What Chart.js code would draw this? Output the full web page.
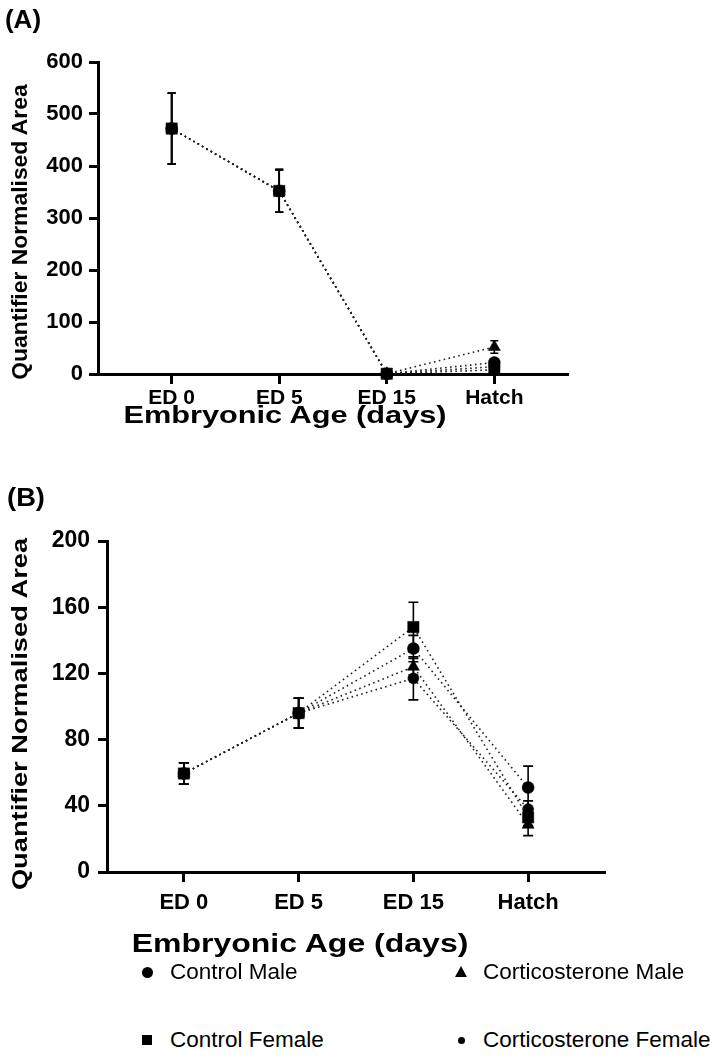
<!DOCTYPE html>
<html><head><meta charset="utf-8">
<script src="https://cdn.jsdelivr.net/npm/chart.js@4.4.0/dist/chart.umd.min.js"></script>
<style>
html,body{margin:0;padding:0;background:#fff;}
body{width:717px;height:1060px;position:relative;overflow:hidden;font-family:'Liberation Sans',Arial,sans-serif;color:#000;}
canvas{position:absolute;left:0;}
.t{position:absolute;white-space:nowrap;line-height:1;}
.b{font-weight:bold;}
.mk{position:absolute;background:#000;}
</style></head>
<body>
<canvas id="cA" width="717" height="450" style="top:0px"></canvas>
<canvas id="cB" width="717" height="500" style="top:470px"></canvas>

<div class="t b" style="left:23px;top:19px;font-size:26px;transform:translate(-50%,-50%);">(A)</div>
<div class="t b" style="left:26px;top:497px;font-size:26px;transform:translate(-50%,-50%) scale(1.05,1);">(B)</div>

<div class="t b" style="left:20px;top:232px;font-size:22px;transform:translate(-50%,-50%) rotate(-90deg) scale(1.04,1);">Quantifier Normalised Area</div>
<div class="t b" style="left:20px;top:714px;font-size:22px;transform:translate(-50%,-50%) rotate(-90deg) scale(1.24,1);">Quantifier Normalised Area</div>

<div class="t b" style="left:285px;top:415px;font-size:24px;transform:translate(-50%,-50%) scale(1.28,1);">Embryonic Age (days)</div>
<div class="t b" style="left:300px;top:943px;font-size:25px;transform:translate(-50%,-50%) scale(1.28,1);">Embryonic Age (days)</div>

<div class="mk" style="left:142px;top:967px;width:11px;height:11px;border-radius:50%;"></div>
<div class="t" style="left:170px;top:972px;font-size:22.5px;transform:translateY(-50%);">Control Male</div>
<div class="mk" style="left:142px;top:1035px;width:10px;height:10px;"></div>
<div class="t" style="left:170px;top:1040px;font-size:22.5px;transform:translateY(-50%);">Control Female</div>
<div class="mk" style="left:455px;top:966px;width:12px;height:11px;clip-path:polygon(50% 0,100% 100%,0 100%);"></div>
<div class="t" style="left:483px;top:972px;font-size:22.5px;transform:translateY(-50%);">Corticosterone Male</div>
<div class="mk" style="left:458px;top:1037px;width:7px;height:7px;border-radius:50%;"></div>
<div class="t" style="left:483px;top:1040px;font-size:22.5px;transform:translateY(-50%);">Corticosterone Female</div>

<script>
const categories = ['ED 0', 'ED 5', 'ED 15', 'Hatch'];
const seriesNames = ['Control Male', 'Control Female', 'Corticosterone Male', 'Corticosterone Female'];

// Panel A means
const aControlMale = [472, 352, 0.5, 22];
const aControlFemale = [472, 352, 0.5, 8];
const aCortMale = [472, 352, 0.5, 52];
const aCortFemale = [472, 352, 0.5, 14];
// Panel A error (±)
const aControlMaleErr = [68, 41, 0, 4];
const aControlFemaleErr = [68, 41, 0, 3];
const aCortMaleErr = [68, 41, 0, 12];
const aCortFemaleErr = [68, 41, 0, 4];
const aYTicks = [0, 100, 200, 300, 400, 500, 600];

// Panel B means
const bControlMale = [59.5, 96, 135, 51];
const bControlFemale = [59.5, 96, 148, 33];
const bCortMale = [59.5, 96, 124, 28.5];
const bCortFemale = [59.5, 96, 117, 38];
// Panel B error (±)
const bControlMaleErr = [6.5, 9, 8, 13];
const bControlFemaleErr = [6.5, 9, 15, 5];
const bCortMaleErr = [6.5, 9, 5, 6.5];
const bCortFemaleErr = [6.5, 9, 13, 5];
const bYTicks = [0, 40, 80, 120, 160, 200];

const pointStyles = ['circle', 'rect', 'triangle', 'circle'];
const pointRadii = [6, 8, 7, 5.5];
const drawOrder = [2, 0, 1, 3];

const errorBars = {
  id: 'errorBars',
  beforeDatasetsDraw(chart, args, opts) {
    const ctx = chart.ctx, xs = chart.scales.x, ys = chart.scales.y;
    ctx.save();
    ctx.strokeStyle = '#000';
    ctx.lineWidth = opts.width || 1.6;
    const cap = opts.cap || 4;
    chart.data.datasets.forEach(ds => {
      ds.data.forEach((p, i) => {
        const e = ds.errors[i];
        if (!e) return;
        const x = xs.getPixelForValue(p.x);
        const yt = ys.getPixelForValue(p.y + e);
        const yb = ys.getPixelForValue(p.y - e);
        ctx.beginPath();
        ctx.moveTo(x, yt); ctx.lineTo(x, yb);
        ctx.moveTo(x - cap, yt); ctx.lineTo(x + cap, yt);
        ctx.moveTo(x - cap, yb); ctx.lineTo(x + cap, yb);
        ctx.stroke();
      });
    });
    ctx.restore();
  }
};

function makeDatasets(series, errs) {
  return series.map((vals, k) => ({
    label: seriesNames[k],
    data: vals.map((v, i) => ({ x: i, y: v })),
    errors: errs[k],
    order: drawOrder[k],
    showLine: true,
    borderColor: '#222',
    borderWidth: 1.6,
    borderDash: [1.6, 3.4],
    pointStyle: pointStyles[k],
    pointRadius: pointRadii[k],
    pointBackgroundColor: '#000',
    pointBorderColor: '#000',
    pointBorderWidth: 0.5,
    clip: false,
    tension: 0
  }));
}

function makeChart(id, series, errs, yMax, yTicks, yWidth, pad, xMax, cap, yFont, xFont, yPad, xPad) {
  return new Chart(document.getElementById(id), {
    type: 'line',
    data: { datasets: makeDatasets(series, errs) },
    plugins: [errorBars],
    options: {
      responsive: false,
      devicePixelRatio: 1,
      animation: false,
      layout: { padding: pad },
      plugins: { legend: { display: false }, tooltip: { enabled: false }, errorBars: { cap: cap, width: 1.6 } },
      scales: {
        x: {
          type: 'linear', min: -xMax + 3, max: xMax,
          afterBuildTicks: s => { s.ticks = categories.map((c, i) => ({ value: i })); },
          afterFit: s => { s.height = 40; },
          ticks: { callback: v => categories[v], font: { family: 'Liberation Sans', weight: 'bold', size: xFont }, color: '#000', padding: xPad, maxRotation: 0, autoSkip: false },
          grid: { drawOnChartArea: false, drawTicks: true, tickLength: 10, tickWidth: 3, tickColor: '#000', color: '#000' },
          border: { display: true, width: 3, color: '#000' }
        },
        y: {
          min: 0, max: yMax,
          afterBuildTicks: s => { s.ticks = yTicks.map(v => ({ value: v })); },
          afterFit: s => { s.width = yWidth; },
          ticks: { font: { family: 'Liberation Sans', weight: 'bold', size: yFont }, color: '#000', padding: yPad },
          grid: { drawOnChartArea: false, drawTicks: true, tickLength: 9, tickWidth: 3, tickColor: '#000', color: '#000' },
          border: { display: true, width: 3, color: '#000' }
        }
      }
    }
  });
}

makeChart('cA',
  [aControlMale, aControlFemale, aCortMale, aCortFemale],
  [aControlMaleErr, aControlFemaleErr, aCortMaleErr, aCortFemaleErr],
  600, aYTicks, 98, { top: 62, left: 0, right: 149, bottom: 36 }, 3.685, 4, 22, 21, 6, 2);

makeChart('cB',
  [bControlMale, bControlFemale, bCortMale, bCortFemale],
  [bControlMaleErr, bControlFemaleErr, bCortMaleErr, bCortFemaleErr],
  200, bYTicks, 107, { top: 71, left: 0, right: 112, bottom: 58 }, 3.67, 5, 23, 22, 8, 8);
</script>
</body></html>
